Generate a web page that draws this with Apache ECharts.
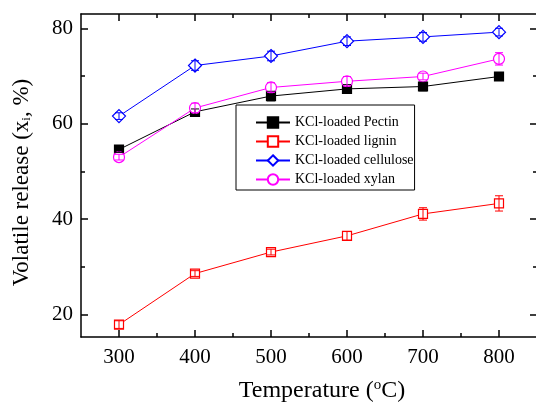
<!DOCTYPE html>
<html>
<head>
<meta charset="utf-8">
<script src="https://cdn.jsdelivr.net/npm/echarts@6/dist/echarts.min.js"></script>
<style>
  html, body { margin: 0; padding: 0; background: #fff; }
  #chart { width: 536px; height: 403px; }
</style>
</head>
<body>
<div id="chart"></div>
<script>
  // values
  var temps = [300, 400, 500, 600, 700, 800];
  var pectin = [54.6, 62.5, 65.8, 67.3, 67.8, 69.9];
  var pectinErr = [0.6, 0.6, 1.0, 0.9, 0.9, 0.6];
  var lignin = [17.9, 28.6, 33.1, 36.5, 41.1, 43.3];
  var ligninErr = [0.8, 0.6, 0.6, 0.9, 1.3, 1.6];
  var cellulose = [61.6, 72.2, 74.2, 77.3, 78.2, 79.2];
  var celluloseErr = [0.7, 1.0, 1.0, 0.9, 0.9, 0.8];
  var xylan = [53.0, 63.3, 67.6, 68.9, 69.9, 73.6];
  var xylanErr = [0.6, 1.0, 1.0, 1.0, 0.7, 1.3];

  var xMajor = [300, 400, 500, 600, 700, 800];
  var xMinor = [350, 450, 550, 650, 750];
  var yMajor = [20, 40, 60, 80];
  var yMinor = [30, 50, 70];

  var font = 'Liberation Serif';

  function pts(vals) {
    return temps.map(function (t, i) { return [t, vals[i]]; });
  }
  function errPts(vals, errs) {
    return temps.map(function (t, i) { return [t, vals[i] - errs[i], vals[i] + errs[i]]; });
  }

  // error bars drawn with the axis scale
  function errRender(params, api) {
    var lo = api.coord([api.value(0), api.value(1)]);
    var hi = api.coord([api.value(0), api.value(2)]);
    var c = api.visual('color');
    var st = { stroke: c, lineWidth: 1 };
    return {
      type: 'group',
      children: [
        { type: 'line', shape: { x1: lo[0], y1: lo[1], x2: hi[0], y2: hi[1] }, style: st },
        { type: 'line', shape: { x1: lo[0] - 4, y1: lo[1], x2: lo[0] + 4, y2: lo[1] }, style: st },
        { type: 'line', shape: { x1: hi[0] - 4, y1: hi[1], x2: hi[0] + 4, y2: hi[1] }, style: st }
      ]
    };
  }

  function lineSeries(name, vals, color, symbol, size, fill) {
    return {
      name: name,
      type: 'line',
      data: pts(vals),
      symbol: symbol,
      symbolSize: size,
      showAllSymbol: true,
      lineStyle: { color: color, width: 1 },
      itemStyle: { color: fill, borderColor: color, borderWidth: 1.2 },
      z: 3
    };
  }
  function errSeries(vals, errs, color) {
    return {
      type: 'custom',
      renderItem: errRender,
      data: errPts(vals, errs),
      itemStyle: { color: color },
      encode: { x: 0, y: [1, 2] },
      z: 4,
      silent: true
    };
  }

  function xAx(pos, ticks, len, main) {
    return {
      type: 'value', position: pos, min: 250, max: 850,
      axisLine: { show: main, onZero: false, lineStyle: { color: '#000', width: 1.5 } },
      axisTick: { show: true, inside: true, length: len, customValues: ticks, lineStyle: { color: '#000', width: 1.5 } },
      axisLabel: (pos === 'bottom' && main) ? { customValues: ticks, color: '#000', fontFamily: font, fontSize: 21, margin: 10 } : { show: false },
      splitLine: { show: false }
    };
  }
  function yAx(pos, ticks, len, main) {
    return {
      type: 'value', position: pos, min: 15.3, max: 83,
      axisLine: { show: main, onZero: false, lineStyle: { color: '#000', width: 1.5 } },
      axisTick: { show: true, inside: true, length: len, customValues: ticks, lineStyle: { color: '#000', width: 1.5 } },
      axisLabel: (pos === 'left' && main) ? { customValues: ticks, color: '#000', fontFamily: font, fontSize: 21, margin: 8 } : { show: false },
      splitLine: { show: false }
    };
  }

  var xAxes = [xAx('bottom', xMajor, 7, true), xAx('bottom', xMinor, 4, false), xAx('top', xMajor, 7, true), xAx('top', xMinor, 4, false)];
  var yAxes = [yAx('left', yMajor, 7, true), yAx('left', yMinor, 4, false), yAx('right', yMajor, 7, true), yAx('right', yMinor, 4, false)];

  xAxes[0].name = 'Temperature ({sup|o}C)';
  xAxes[0].nameLocation = 'middle';
  xAxes[0].nameGap = 41;
  xAxes[0].nameTextStyle = {
    color: '#000', fontFamily: font, fontSize: 24, padding: [0, 0, 0, 26],
    rich: { sup: { fontFamily: font, fontSize: 15, color: '#000', verticalAlign: 'top', padding: [0, 0, 11, 0] } }
  };
  yAxes[0].name = 'Volatile release (x{sub|i}, %)';
  yAxes[0].nameLocation = 'middle';
  yAxes[0].nameGap = 48;
  yAxes[0].nameTextStyle = {
    color: '#000', fontFamily: font, fontSize: 23, padding: [0, 14, 0, 0],
    rich: { sub: { fontFamily: font, fontSize: 13, color: '#000', verticalAlign: 'bottom', padding: [9, 0, 0, 0] } }
  };

  var chart = echarts.init(document.getElementById('chart'));
  chart.setOption({
    animation: false,
    backgroundColor: '#fff',
    grid: { left: 81, right: -1, top: 14, bottom: 66, containLabel: false, outerBoundsMode: 'none' },
    xAxis: xAxes,
    yAxis: yAxes,
    legend: {
      orient: 'vertical',
      left: 236, top: 105,
      padding: [10, 1, 3, 19],
      itemGap: 4,
      itemWidth: 34,
      itemHeight: 13,
      backgroundColor: '#fff',
      borderColor: '#000',
      borderWidth: 1,
      textStyle: { color: '#000', fontFamily: font, fontSize: 14, lineHeight: 15 },
      data: ['KCl-loaded Pectin', 'KCl-loaded lignin', 'KCl-loaded cellulose', 'KCl-loaded xylan']
    },
    series: [
      lineSeries('KCl-loaded Pectin', pectin, '#000000', 'rect', 9, '#000000'),
      lineSeries('KCl-loaded lignin', lignin, '#ff0000', 'rect', 9, '#ffffff'),
      lineSeries('KCl-loaded cellulose', cellulose, '#0000ff', 'diamond', 13, '#ffffff'),
      lineSeries('KCl-loaded xylan', xylan, '#ff00ff', 'circle', 11, '#ffffff'),
      errSeries(pectin, pectinErr, '#000000'),
      errSeries(lignin, ligninErr, '#ff0000'),
      errSeries(cellulose, celluloseErr, '#0000ff'),
      errSeries(xylan, xylanErr, '#ff00ff')
    ]
  });
</script>
</body>
</html>
